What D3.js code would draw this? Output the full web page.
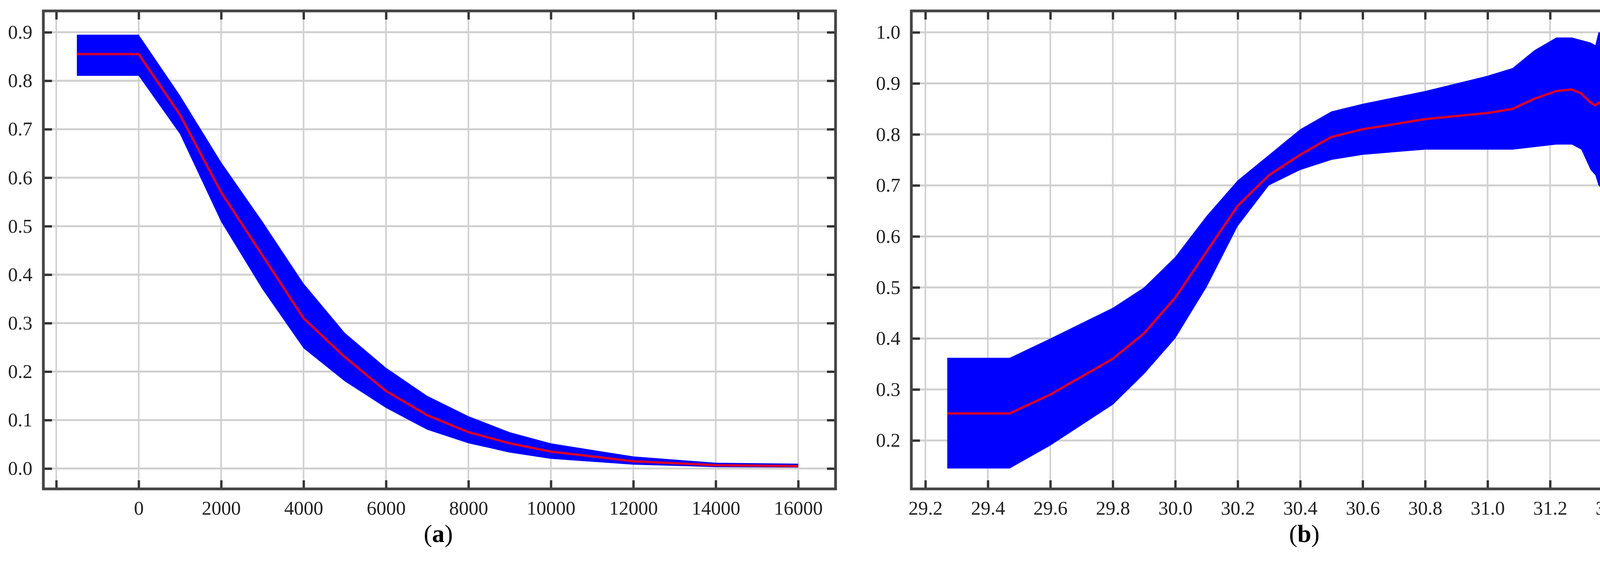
<!DOCTYPE html>
<html><head><meta charset="utf-8">
<script src="https://cdn.jsdelivr.net/npm/d3@7"></script>
<style>body{margin:0;background:#fff}svg{display:block}</style>
</head><body>
<script>
// Panel (a)
const aX     = [-1500, 0, 1000, 2000, 3000, 4000, 5000, 6000, 7000, 8000, 9000, 10000, 12000, 14000, 16000];
const aMean  = [0.855, 0.855, 0.73, 0.57, 0.44, 0.31, 0.23, 0.16, 0.11, 0.075, 0.052, 0.035, 0.015, 0.007, 0.005];
const aUpper = [0.895, 0.895, 0.77, 0.632, 0.51, 0.382, 0.28, 0.208, 0.15, 0.108, 0.075, 0.052, 0.025, 0.012, 0.010];
const aLower = [0.81, 0.81, 0.69, 0.509, 0.37, 0.248, 0.18, 0.125, 0.08, 0.052, 0.033, 0.02, 0.008, 0.003, 0.002];
const aXTicks = [-2000, 0, 2000, 4000, 6000, 8000, 10000, 12000, 14000, 16000];
const aYTicks = [0, 0.1, 0.2, 0.3, 0.4, 0.5, 0.6, 0.7, 0.8, 0.9];
// Panel (b)
const bX     = [29.27, 29.47, 29.6, 29.8, 29.9, 30.0, 30.1, 30.2, 30.3, 30.4, 30.5, 30.6, 30.8, 31.0, 31.08, 31.15, 31.22, 31.27, 31.3, 31.33, 31.345, 31.355, 31.37, 31.56];
const bMean  = [0.253, 0.253, 0.29, 0.36, 0.41, 0.48, 0.57, 0.66, 0.72, 0.76, 0.795, 0.81, 0.83, 0.842, 0.85, 0.87, 0.885, 0.888, 0.88, 0.862, 0.857, 0.862, 0.862, 0.862];
const bUpper = [0.362, 0.362, 0.40, 0.46, 0.50, 0.56, 0.64, 0.71, 0.76, 0.81, 0.845, 0.86, 0.885, 0.915, 0.93, 0.965, 0.99, 0.99, 0.985, 0.98, 0.975, 1.0, 1.0, 1.0];
const bLower = [0.145, 0.145, 0.19, 0.27, 0.33, 0.40, 0.50, 0.62, 0.70, 0.73, 0.75, 0.76, 0.77, 0.77, 0.77, 0.775, 0.78, 0.78, 0.77, 0.73, 0.72, 0.70, 0.69, 0.69];
const bXTicks = [29.2, 29.4, 29.6, 29.8, 30.0, 30.2, 30.4, 30.6, 30.8, 31.0, 31.2, 31.4, 31.6];
const bYTicks = [0.2, 0.3, 0.4, 0.5, 0.6, 0.7, 0.8, 0.9, 1.0];

const W = 4345, H = 1452;
const svg = d3.select("body").append("svg").attr("width", W).attr("height", H);
const FONT = "'Liberation Serif', 'DejaVu Serif', serif";

function panel(o) {
  const x = d3.scaleLinear().domain(o.xd).range([o.l, o.r]);
  const y = d3.scaleLinear().domain(o.yd).range([o.b, o.t]);
  const g = svg.append("g");
  g.selectAll(".gx").data(o.xt).join("line").attr("x1", d => x(d)).attr("x2", d => x(d))
    .attr("y1", o.t).attr("y2", o.b).attr("stroke", "#d0d0d0").attr("stroke-width", 4);
  g.selectAll(".gy").data(o.yt).join("line").attr("y1", d => y(d)).attr("y2", d => y(d))
    .attr("x1", o.l).attr("x2", o.r).attr("stroke", "#d0d0d0").attr("stroke-width", 5);
  const idx = d3.range(o.xs.length);
  g.append("path").datum(idx).attr("fill", "#0000ff")
    .attr("d", d3.area().x(i => x(o.xs[i])).y0(i => y(o.lo[i])).y1(i => y(o.up[i])).curve(d3.curveLinear));
  g.append("path").datum(idx).attr("fill", "none").attr("stroke", "#d8002a").attr("stroke-width", 6)
    .attr("d", d3.line().x(i => x(o.xs[i])).y(i => y(o.m[i])).curve(d3.curveLinear));
  const fmtY = d3.format(".1f");
  const ax = g.append("g").attr("transform", `translate(0,${o.b})`)
    .call(d3.axisBottom(x).tickValues(o.xt).tickSize(-22).tickPadding(30).tickFormat(o.fx));
  const at = g.append("g").attr("transform", `translate(0,${o.t})`)
    .call(d3.axisTop(x).tickValues(o.xt).tickSize(-22).tickFormat(""));
  const al = g.append("g").attr("transform", `translate(${o.l},0)`)
    .call(d3.axisLeft(y).tickValues(o.yt).tickSize(-22).tickPadding(28).tickFormat(fmtY));
  const ar = g.append("g").attr("transform", `translate(${o.r},0)`)
    .call(d3.axisRight(y).tickValues(o.yt).tickSize(-22).tickFormat(""));
  [ax, at, al, ar].forEach(a => {
    a.select(".domain").remove();
    a.selectAll(".tick line").attr("stroke", "#333").attr("stroke-width", 6);
    a.selectAll("text").attr("font-family", FONT).attr("font-size", 50).attr("fill", "#222");
  });
  g.append("rect").attr("x", o.l).attr("y", o.t).attr("width", o.r - o.l).attr("height", o.b - o.t)
    .attr("fill", "none").attr("stroke", "#444").attr("stroke-width", 7);
  const lab = g.append("text").attr("x", o.lx).attr("y", 1388).attr("text-anchor", "middle")
    .attr("font-family", FONT).attr("font-size", 64).attr("fill", "#000");
  lab.append("tspan").text("(");
  lab.append("tspan").attr("font-weight", "bold").text(o.label);
  lab.append("tspan").text(")");
}

panel({l: 111, r: 2139, t: 28, b: 1252, xd: [-2313, 16907], yd: [-0.042, 0.944],
  xs: aX, m: aMean, up: aUpper, lo: aLower, xt: aXTicks, yt: aYTicks,
  fx: d => d === -2000 ? "" : String(d), label: "a", lx: 1122});
panel({l: 2333, r: 4328, t: 28, b: 1252, xd: [29.155, 31.65], yd: [0.105, 1.042],
  xs: bX, m: bMean, up: bUpper, lo: bLower, xt: bXTicks, yt: bYTicks,
  fx: d3.format(".1f"), label: "b", lx: 3339});
</script>
</body></html>
